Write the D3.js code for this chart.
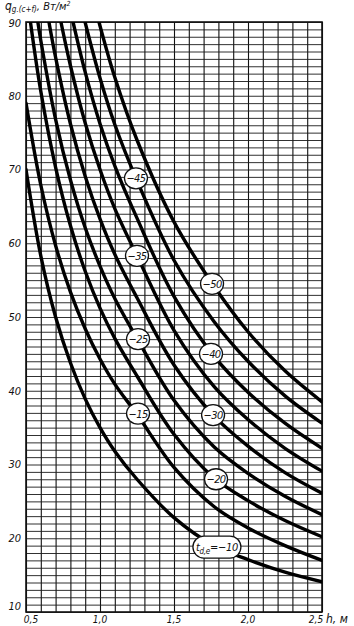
<!DOCTYPE html>
<html>
<head>
<meta charset="utf-8">
<script src="https://cdn.jsdelivr.net/npm/d3@7"></script>
<style>
  body { margin: 0; background: #fff; }
  text { font-family: "DejaVu Sans Condensed", "Liberation Sans Narrow", sans-serif; font-style: italic; fill: #111; }
</style>
</head>
<body>
<div id="chart"></div>
<script>
// values: q [W/m2] against h [m] for each t_d,e
var temps = [-10, -15, -20, -25, -30, -35, -40, -45, -50];

var curve10 = [[0.5,70],[0.6,58.3],[0.7,50.0],[0.8,43.8],[0.9,38.9],[1.0,35.0],[1.1,31.8],[1.25,28.0],[1.5,22.8],[1.77,19.0],[2.0,17.1],[2.25,15.4],[2.5,14.1]];
var curve15 = [[0.5,79],[0.6,67.9],[0.7,59.7],[0.8,53.4],[0.9,48.4],[1.0,44.3],[1.1,40.9],[1.25,36.8],[1.5,29.6],[1.77,24.3],[2.0,21.4],[2.25,19.0],[2.5,17.0]];
var curve20 = [[0.53,90],[0.6,80.6],[0.7,70.3],[0.8,62.4],[0.9,56.2],[1.0,51.2],[1.1,47.1],[1.25,42.0],[1.5,34.1],[1.77,28.2],[2.0,25.1],[2.25,22.4],[2.5,20.2]];
var curve25 = [[0.58,90],[0.6,87.5],[0.7,76.8],[0.8,68.6],[0.9,62.1],[1.0,56.9],[1.1,52.5],[1.25,47.1],[1.5,38.7],[1.77,32.4],[2.0,28.8],[2.25,25.7],[2.5,23.2]];
var curve30 = [[0.655,90],[0.7,85.2],[0.8,76.2],[0.9,69.1],[1.0,63.3],[1.1,58.5],[1.25,52.6],[1.5,43.5],[1.77,36.6],[2.0,32.5],[2.25,28.9],[2.5,26.1]];
var curve35 = [[0.736,90],[0.8,84.1],[0.9,76.3],[1.0,70.0],[1.1,64.7],[1.25,58.3],[1.5,48.2],[1.77,40.6],[2.0,36.1],[2.25,32.2],[2.5,29.1]];
var curve40 = [[0.818,90],[0.9,83.2],[1.0,76.2],[1.1,70.5],[1.25,63.4],[1.5,52.8],[1.77,44.7],[2.0,39.8],[2.25,35.6],[2.5,32.2]];
var curve45 = [[0.899,90],[1.0,82.4],[1.1,76.1],[1.25,68.5],[1.5,57.7],[1.77,49.4],[2.0,44.0],[2.25,39.3],[2.5,35.6]];
var curve50 = [[0.993,90],[1.1,82.5],[1.25,74.0],[1.5,62.9],[1.77,54.2],[2.0,48.0],[2.25,42.7],[2.5,38.5]];

var curves = [curve10, curve15, curve20, curve25, curve30, curve35, curve40, curve45, curve50];

// circled labels sitting on the curves
var labelT = [-45, -35, -25, -15, -50, -40, -30, -20];
var labelH = [1.243, 1.25, 1.257, 1.257, 1.757, 1.75, 1.764, 1.784];
var labelQ = [68.8, 58.3, 47.0, 36.9, 54.5, 45.0, 36.7, 28.0];
var label10 = { h: 1.79, q: 18.8 };

var yTicks = [10, 20, 30, 40, 50, 60, 70, 80, 90];
var xTicks = [0.5, 1.0, 1.5, 2.0, 2.5];
var xTickLabels = ["0,5", "1,0", "1,5", "2,0", "2,5"];

var W = 354, H = 626;
var margin = { top: 22, right: 32, bottom: 14, left: 26 },
    width = W - margin.left - margin.right,
    height = H - margin.top - margin.bottom;

var x = d3.scaleLinear().domain([0.5, 2.5]).range([0, width]);
var y = d3.scaleLinear().domain([10, 90]).range([height, 0]);

var svg = d3.select("#chart").append("svg")
    .attr("width", W)
    .attr("height", H)
  .append("g")
    .attr("transform", "translate(" + margin.left + "," + margin.top + ")");

// fine grid: every 0.1 m and every 1 W/m2
svg.append("g")
    .attr("class", "grid-x")
    .attr("transform", "translate(0," + height + ")")
    .call(d3.axisBottom(x)
        .tickValues(d3.range(5, 26).map(function (d) { return d / 10; }))
        .tickSize(-height)
        .tickFormat(""))
    .call(function (g) { g.select(".domain").remove(); })
    .selectAll("line")
    .attr("stroke", "#111")
    .attr("stroke-width", 1.1);

svg.append("g")
    .attr("class", "grid-y")
    .call(d3.axisLeft(y)
        .tickValues(d3.range(10, 91))
        .tickSize(-width)
        .tickFormat(""))
    .call(function (g) { g.select(".domain").remove(); })
    .selectAll("line")
    .attr("stroke", "#1a1a1a")
    .attr("stroke-width", 0.9);

svg.append("rect")
    .attr("width", width)
    .attr("height", height)
    .attr("fill", "none")
    .attr("stroke", "#111")
    .attr("stroke-width", 1.6);

// curves
var line = d3.line()
    .x(function (d) { return x(d[0]); })
    .y(function (d) { return y(d[1]); })
    .curve(d3.curveCatmullRom.alpha(0.5));

svg.append("clipPath").attr("id", "clip")
  .append("rect").attr("width", width).attr("height", height);

svg.append("g")
    .attr("clip-path", "url(#clip)")
  .selectAll("path")
    .data(curves)
    .enter()
    .append("path")
    .attr("d", line)
    .attr("fill", "none")
    .attr("stroke", "#000")
    .attr("stroke-width", 3.4)
    .attr("stroke-linecap", "round");

// circled labels
var lab = svg.selectAll(".lab")
    .data(labelT)
    .enter()
    .append("g")
    .attr("class", "lab")
    .attr("transform", function (d, i) { return "translate(" + x(labelH[i]) + "," + y(labelQ[i]) + ")"; });

lab.append("ellipse")
    .attr("rx", 11.5)
    .attr("ry", 10.5)
    .attr("fill", "#fff")
    .attr("stroke", "#111")
    .attr("stroke-width", 1.3);

lab.append("text")
    .attr("text-anchor", "middle")
    .attr("dy", "0.36em")
    .attr("font-size", 11)
    .attr("letter-spacing", -0.6)
    .text(function (d) { return "\u2212" + Math.abs(d); });

// t_d,e = -10 label
var l10 = svg.append("g")
    .attr("transform", "translate(" + x(label10.h) + "," + y(label10.q) + ")");
l10.append("rect")
    .attr("x", -24).attr("y", -11)
    .attr("width", 48).attr("height", 22)
    .attr("rx", 11)
    .attr("fill", "#fff")
    .attr("stroke", "#111")
    .attr("stroke-width", 1.3);
var t10 = l10.append("text")
    .attr("text-anchor", "middle")
    .attr("dy", "0.35em")
    .attr("font-size", 11)
    .attr("letter-spacing", -0.3);
t10.append("tspan").text("t");
t10.append("tspan").attr("font-size", 8).attr("baseline-shift", "-3").text("d,e");
t10.append("tspan").text("=\u221210");

// y tick labels
svg.selectAll(".ylab")
    .data(yTicks)
    .enter()
    .append("text")
    .attr("class", "ylab")
    .attr("x", -5)
    .attr("y", function (d) { return d === 10 ? y(d) - 6 : d === 90 ? y(d) + 1 : y(d); })
    .attr("dy", "0.36em")
    .attr("text-anchor", "end")
    .attr("font-size", 11)
    .text(function (d) { return d; });

// x tick labels
svg.selectAll(".xlab")
    .data(xTicks)
    .enter()
    .append("text")
    .attr("class", "xlab")
    .attr("x", function (d, i) { return i === 0 ? x(d) + 5 : i === 4 ? x(d) - 6 : x(d); })
    .attr("y", height + 11)
    .attr("text-anchor", "middle")
    .attr("font-size", 10)
    .text(function (d, i) { return xTickLabels[i]; });

svg.append("text")
    .attr("x", width + 4)
    .attr("y", height + 11)
    .attr("font-size", 12)
    .text("h, м");

// y axis title
var yt = svg.append("text")
    .attr("x", -21)
    .attr("y", -12)
    .attr("font-size", 12);
yt.append("tspan").text("q");
yt.append("tspan").attr("font-size", 8).attr("baseline-shift", "-1.5").text("g.(c+f)");
yt.append("tspan").attr("font-size", 11).text(", Вт/м");
yt.append("tspan").attr("font-size", 7).attr("baseline-shift", "super").text("2");
</script>
</body>
</html>
